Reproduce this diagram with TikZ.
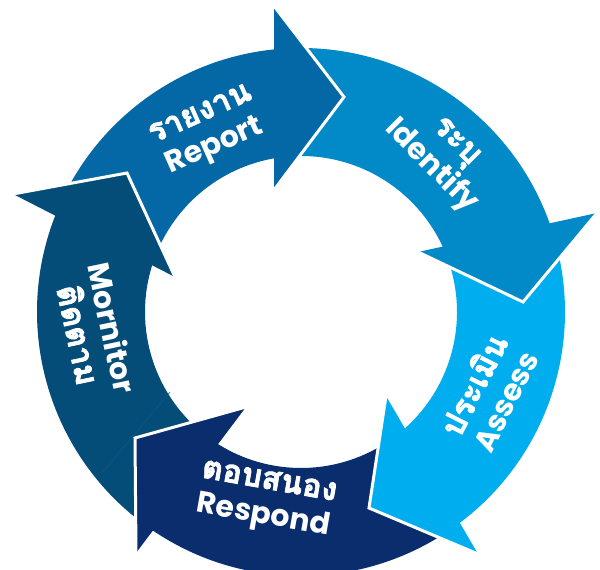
\documentclass[tikz,border=0pt]{standalone}
\usepackage{fontspec}
\setmainfont{Poppins}
\newfontfamily\thaifont[Script=Thai,FakeBold=2.2]{Loma}
\newcommand\thtxt[1]{{\thaifont\fontsize{32}{35}\selectfont #1}}
\definecolor{cReport}{HTML}{0468A6}
\definecolor{cIdent}{HTML}{028AC8}
\definecolor{cAssess}{HTML}{00AEEF}
\definecolor{cRespond}{HTML}{0A2D6E}
\definecolor{cMonitor}{HTML}{054D79}
\definecolor{cSeam}{HTML}{0B5A88}
\begin{document}
\begin{tikzpicture}[x=1pt,y=1pt,
  rim/.style={draw=white,line width=3pt,line join=miter},
  lbl/.style={text=white,align=center,inner sep=0pt,
              font=\bfseries\fontsize{30}{35}\selectfont}]
\useasboundingbox (0,0) rectangle (600,570);
\clip (0,0) rectangle (600,570);
\coordinate (C) at (301,258);
% ring bands
\begin{scope}[shift={(C)}]
  \fill[cReport] (156.7:264) arc[start angle=156.7,end angle=93.3,radius=264]
     -- (93.3:156) arc[start angle=93.3,end angle=156.7,radius=156] -- cycle;
  \fill[cIdent] (93.3:264) arc[start angle=93.3,end angle=18.3,radius=264]
     -- (18.3:156) arc[start angle=18.3,end angle=93.3,radius=156] -- cycle;
  \fill[cAssess] (18.3:264) arc[start angle=18.3,end angle=-55.8,radius=264]
     -- (-55.8:156) arc[start angle=-55.8,end angle=18.3,radius=156] -- cycle;
  \fill[cRespond] (-55.8:264) arc[start angle=-55.8,end angle=-126.5,radius=264]
     -- (-126.5:156) arc[start angle=-126.5,end angle=-55.8,radius=156] -- cycle;
  \fill[cMonitor] (-126.5:264) arc[start angle=-126.5,end angle=-203.3,radius=264]
     -- (-203.3:156) arc[start angle=-203.3,end angle=-126.5,radius=156] -- cycle;
\end{scope}
% faint seam in the monitor band
\coordinate (seamA) at (170,178);
\coordinate (seamB) at (102,97);
\draw[cSeam,line width=0.5pt] (seamA) -- (seamB);
% arrow heads
\coordinate (rpO) at (274,564); \coordinate (rpT) at (344,473); \coordinate (rpI) at (274,380);
\coordinate (idO) at (597,357); \coordinate (idT) at (523,268); \coordinate (idI) at (418,318);
\coordinate (asI) at (386,174); \coordinate (asT) at (369,62);  \coordinate (asO) at (478,16);
\coordinate (rsI) at (246,163); \coordinate (rsT) at (135,132); \coordinate (rsO) at (136,17);
\coordinate (moO) at (13,376);  \coordinate (moT) at (127,397); \coordinate (moI) at (175,293);
\fill[cReport] (rpO) -- (rpT) -- (rpI) -- cycle; \draw[rim] (rpO) -- (rpT) -- (rpI);
\fill[cIdent] (idO) -- (idT) -- (idI) -- cycle; \draw[rim] (idO) -- (idT) -- (idI);
\fill[cAssess] (asO) -- (asT) -- (asI) -- cycle; \draw[rim] (asO) -- (asT) -- (asI);
\fill[cRespond] (rsO) -- (rsT) -- (rsI) -- cycle; \draw[rim] (rsO) -- (rsT) -- (rsI);
\fill[cMonitor] (moO) -- (moT) -- (moI) -- cycle; \draw[rim] (moO) -- (moT) -- (moI);
% labels
\node[lbl,rotate=24] (report) at (208.5,437.5) {\thtxt{รายงาน}\\Report};
\node[lbl,rotate=-45] (ident) at (442,414.5) {\thtxt{ระบุ}\\Identify};
\node[lbl,rotate=63] (assess) at (488.5,177.5) {\thtxt{ประเมิน}\\Assess};
\node[lbl,rotate=-10] (respond) at (266,69) {\thtxt{ตอบสนอง}\\Respond};
\node[lbl,rotate=-78] (monitor) at (95.5,238.5) {Mornitor\\\thtxt{ติดตาม}};
\end{tikzpicture}
\end{document}
